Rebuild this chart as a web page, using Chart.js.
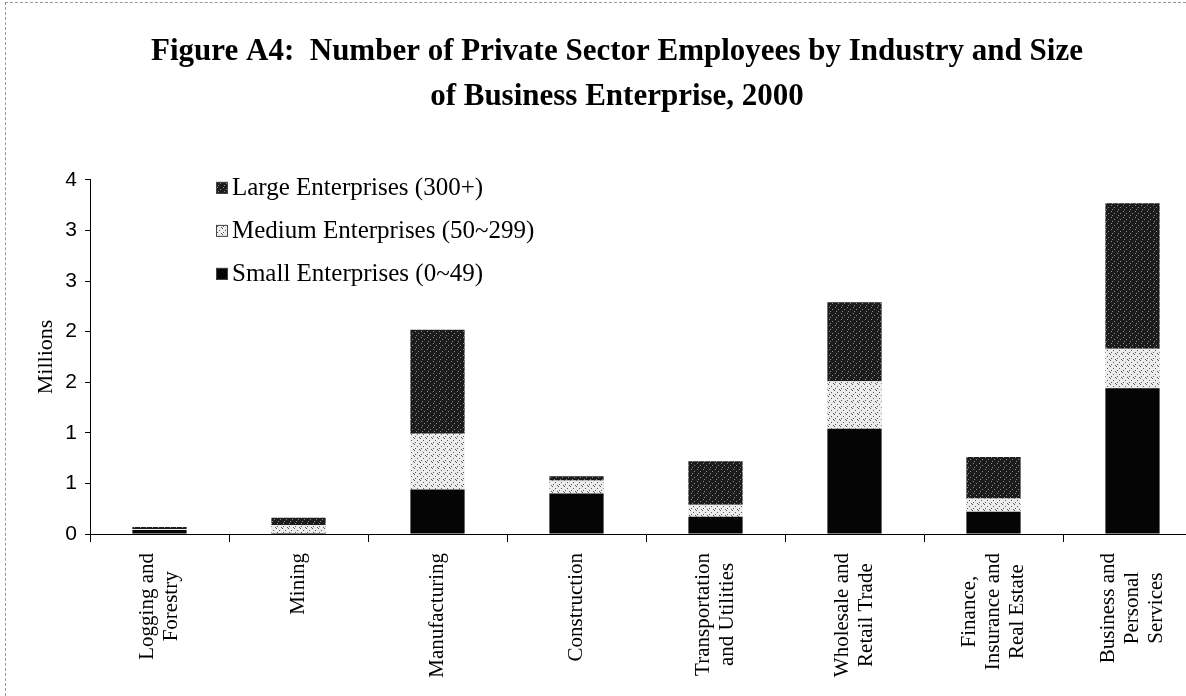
<!DOCTYPE html>
<html>
<head>
<meta charset="utf-8">
<script src="https://cdn.jsdelivr.net/npm/chart.js@4.4.0/dist/chart.umd.min.js"></script>
<style>
  html, body { margin: 0; padding: 0; background: #fff; overflow: hidden; }
  #wrap { position: relative; width: 1186px; height: 696px; overflow: hidden; }
  #frame { position: absolute; left: 5px; top: 2px; right: 0; bottom: 0;
           border-top: 1px dashed #999; border-left: 1px dashed #999; pointer-events: none; }
  canvas { position: absolute; left: 0; top: 0; }
</style>
</head>
<body>
<div id="wrap">
  <canvas id="myChart" width="1234" height="696"></canvas>
  <div id="frame"></div>
</div>
<script>
// industries on the x axis
const industries = [
  ["Logging and", "Forestry"],
  "Mining",
  "Manufacturing",
  "Construction",
  ["Transportation", "and Utilities"],
  ["Wholesale and", "Retail Trade"],
  ["Finance,", "Insurance and", "Real Estate"],
  ["Business and", "Personal", "Services"]
];

// employees (millions)
const small_ent  = [0.04, 0.01, 0.44, 0.40, 0.17, 1.04, 0.22, 1.44];
const medium_ent = [0.01, 0.08, 0.55, 0.13, 0.12, 0.47, 0.13, 0.39];
const large_ent  = [0.02, 0.07, 1.03, 0.04, 0.43, 0.78, 0.41, 1.44];

const series_names = ["Small Enterprises (0~49)", "Medium Enterprises (50~299)", "Large Enterprises (300+)"];

// half-million ticks, printed rounded like the original (0.5 -> 1, 1.5 -> 2 ...)
const y_max = 3.5;
const y_step = 0.5;

const canvas = document.getElementById('myChart');
const ctx = canvas.getContext('2d');

// small dotted fills, like the scanned hatching
function make_pattern(base, dot, cells){
  let c = document.createElement('canvas');
  c.width = 6; c.height = 6;
  let g = c.getContext('2d');
  g.fillStyle = base;
  g.fillRect(0, 0, 6, 6);
  g.fillStyle = dot;
  for (let p of cells) g.fillRect(p[0], p[1], 1, 1);
  return ctx.createPattern(c, 'repeat');
}

const small_fill  = '#050505';
const medium_fill = make_pattern('#ececec', '#5a5a5a', [[0,0],[3,2],[1,4],[5,5]]);
const large_fill  = make_pattern('#1c1c1c', '#8c8c8c', [[1,1],[4,3],[2,5]]);

// legend sits inside the plot, top left, largest first
const inside_legend = {
  id: 'inside_legend',
  afterDraw(chart){
    let c = chart.ctx;
    let ds = chart.data.datasets;
    c.save();
    c.font = '25px "Liberation Serif"';
    c.textBaseline = 'middle';
    let y = chart.chartArea.top + 8;
    for (let i = ds.length - 1; i >= 0; i--){
      c.fillStyle = ds[i].backgroundColor;
      c.fillRect(216, y - 6, 12, 12);
      c.strokeStyle = '#444';
      c.lineWidth = 1;
      c.strokeRect(216.5, y - 5.5, 11, 11);
      c.fillStyle = '#000';
      c.fillText(ds[i].label, 232, y + 1);
      y += 43;
    }
    c.restore();
  }
};

// rotated category labels, lines centred on the tick like the original
const x_labels = {
  id: 'x_labels',
  afterDraw(chart){
    let c = chart.ctx;
    let xs = chart.scales.x;
    c.save();
    c.font = '21px "Liberation Serif"';
    c.fillStyle = '#000';
    c.textAlign = 'center';
    c.textBaseline = 'middle';
    let line_h = 24;
    let top = xs.top + 19;
    chart.data.labels.forEach((lab, i) => {
      let lines = Array.isArray(lab) ? lab : [lab];
      let longest = Math.max(...lines.map(s => c.measureText(s).width));
      let x = xs.getPixelForValue(i);
      lines.forEach((s, k) => {
        c.save();
        c.translate(x + (k - (lines.length - 1) / 2) * line_h, top + longest / 2);
        c.rotate(-Math.PI / 2);
        c.fillText(s, 0, 0);
        c.restore();
      });
    });
    c.restore();
  }
};

const chart = new Chart(canvas, {
  type: 'bar',
  data: {
    labels: industries,
    datasets: [
      { label: series_names[0], data: small_ent,  backgroundColor: small_fill },
      { label: series_names[1], data: medium_ent, backgroundColor: medium_fill },
      { label: series_names[2], data: large_ent,  backgroundColor: large_fill }
    ]
  },
  options: {
    responsive: false,
    animation: false,
    devicePixelRatio: 1,
    layout: { padding: { left: 32, right: 32, top: 0, bottom: 0 } },
    datasets: { bar: { barPercentage: 0.39, categoryPercentage: 1 } },
    plugins: {
      legend: { display: false },
      tooltip: { enabled: false },
      title: {
        display: true,
        text: ["Figure A4:  Number of Private Sector Employees by Industry and Size",
               "of Business Enterprise, 2000"],
        color: '#000',
        font: { family: '"Liberation Serif"', size: 31, weight: 'bold', lineHeight: 1.45 },
        padding: { top: 30, bottom: 60 }
      }
    },
    scales: {
      x: {
        stacked: true,
        grid: { drawOnChartArea: false, color: '#000', tickLength: 8 },
        border: { color: '#000' },
        ticks: { display: false },
        afterFit(scale){ scale.height = 162; }
      },
      y: {
        stacked: true,
        min: 0,
        max: y_max,
        grid: { drawOnChartArea: false, color: '#000', tickLength: 5 },
        border: { color: '#000' },
        ticks: {
          stepSize: y_step,
          color: '#000',
          padding: 8,
          font: { family: '"Liberation Sans"', size: 21 },
          callback: function(v){ return Math.round(v); }
        },
        title: {
          display: true,
          text: 'Millions',
          color: '#000',
          font: { family: '"Liberation Serif"', size: 22 },
          padding: { top: 1, bottom: 0 }
        },
        afterFit(scale){ scale.width = 58; }
      }
    }
  },
  plugins: [inside_legend, x_labels]
});
</script>
</body>
</html>
